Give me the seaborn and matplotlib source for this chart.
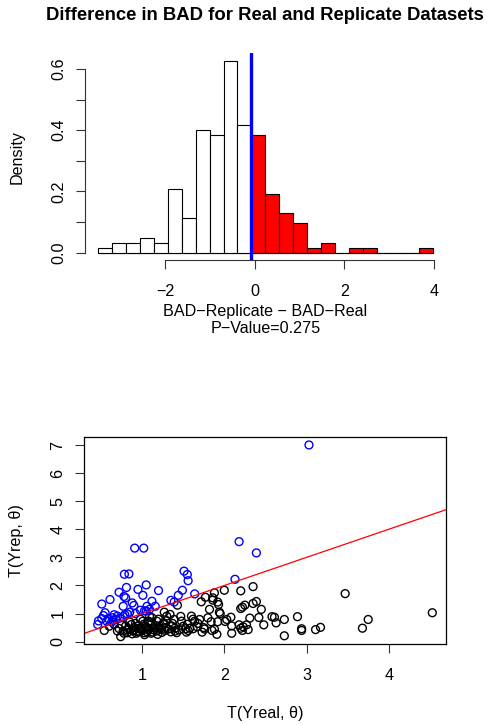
import numpy as np
import pandas as pd
import matplotlib
matplotlib.use("Agg")
import matplotlib.pyplot as plt
import seaborn as sns

sns.set_style("white")
plt.rcParams['font.family'] = ['Liberation Sans', 'DejaVu Sans']
plt.rcParams['axes.unicode_minus'] = True
for k in ["text.color", "axes.labelcolor", "xtick.color", "ytick.color"]:
    plt.rcParams[k] = "black"

# ---------------- data ----------------
# histogram of BAD(replicate) - BAD(real): bin edges and counts (n = 200)
hist_edges = [-3.507 + 0.3116 * k for k in range(25)]
hist_counts = [1, 2, 2, 3, 2, 13, 7, 25, 24, 39, 26,
               24, 12, 8, 6, 1, 2, 0, 1, 1, 0, 0, 0, 1]
observed_diff = -0.08
p_value = 0.275

# scatter: T(Yreal, theta) vs T(Yrep, theta)
t_real_blue = [3.03, 2.18, 2.39, 0.91, 1.02, 2.13, 1.51, 1.55, 1.56, 0.785, 0.84,
               1.05, 0.95, 1.01, 0.81, 0.72, 0.78, 0.80, 1.20, 1.49, 1.44, 1.64,
               1.35, 1.39, 0.61, 0.51, 0.77, 0.88, 0.90, 1.12, 1.16, 1.06, 0.85,
               0.92, 1.05, 1.09, 0.55, 0.66, 0.70, 0.47, 0.46, 0.51, 0.53, 0.59,
               0.64, 0.65, 0.73, 0.77, 0.79, 0.82, 0.63, 0.57, 0.68, 0.98, 1.03]
t_rep_blue = [7.00, 3.56, 3.16, 3.33, 3.33, 2.22, 2.51, 2.39, 2.17, 2.40, 2.41,
              2.02, 1.86, 1.65, 1.93, 1.76, 1.61, 1.56, 1.82, 1.83, 1.65, 1.70,
              1.47, 1.41, 1.50, 1.34, 1.26, 1.38, 1.29, 1.44, 1.26, 1.26, 1.05,
              1.00, 1.09, 1.15, 1.03, 0.96, 0.91, 0.74, 0.61, 0.82, 0.93, 0.82,
              0.85, 0.77, 0.84, 0.89, 0.96, 0.99, 0.70, 0.73, 0.79, 1.12, 1.10]

t_real_black = [4.53, 3.47, 3.75, 3.68, 3.17, 3.11, 2.94, 2.94, 2.89, 2.73, 2.73,
                2.63, 2.61, 2.58, 2.48, 2.45, 2.42, 2.39, 2.35, 2.35, 2.31, 2.29,
                2.27, 2.25, 2.22, 2.20, 2.20, 2.23, 2.20, 2.18, 2.22, 2.09, 2.09,
                2.08, 2.03, 2.00, 2.01, 1.95, 1.94, 1.93, 1.92, 1.88, 1.86, 1.86,
                1.82, 1.91, 1.88, 1.84, 1.92, 1.77, 1.72, 1.75, 1.73, 1.70, 1.67,
                1.64, 1.62, 1.60, 1.56, 1.53, 1.54, 1.48, 1.43, 1.42, 1.40, 1.39,
                1.36, 1.34, 1.30, 1.29, 1.27, 1.26, 1.24, 1.21, 1.19, 1.18, 1.15,
                1.13, 1.11, 1.09, 1.08, 1.06, 1.04, 1.03, 1.01, 0.99, 0.97, 0.95,
                0.93, 0.91, 0.89, 0.87, 0.84, 0.82, 0.80, 0.77, 0.74, 0.72, 0.54,
                0.60, 0.66, 0.70, 0.75, 0.78, 0.82, 0.85, 0.88, 0.90, 0.92, 0.94,
                0.96, 0.98, 1.00, 1.02, 1.03, 1.05, 1.06, 1.08, 1.10, 1.11, 1.12,
                1.14, 1.16, 1.18, 1.20, 1.22, 1.24, 1.26, 1.28, 1.30, 1.32, 1.35,
                1.37, 1.40, 1.45, 1.47, 1.50, 1.55, 1.58, 1.62, 1.68, 1.76, 1.80,
                1.85]
t_rep_black = [1.03, 1.71, 0.79, 0.48, 0.51, 0.43, 0.46, 0.40, 0.89, 0.79, 0.21,
               0.67, 0.87, 0.89, 0.60, 1.15, 0.86, 1.43, 1.36, 1.96, 0.84, 0.43,
               0.60, 1.30, 1.23, 1.18, 1.81, 0.53, 0.48, 0.60, 0.40, 0.30, 0.56,
               0.87, 0.79, 1.83, 0.72, 1.00, 1.05, 1.32, 1.41, 1.74, 1.56, 1.48,
               1.15, 0.26, 0.44, 0.71, 0.71, 1.58, 1.42, 0.50, 0.34, 0.79, 0.53,
               0.73, 0.46, 0.91, 0.40, 0.46, 0.34, 0.73, 1.30, 0.32, 0.38, 0.79,
               0.56, 0.97, 0.91, 0.50, 1.05, 0.67, 0.44, 0.56, 0.26, 0.73, 0.50,
               0.34, 0.61, 0.91, 0.73, 0.44, 0.56, 0.32, 0.73, 0.46, 0.37, 0.56,
               0.30, 0.50, 0.38, 0.61, 0.46, 0.32, 0.56, 0.38, 0.18, 0.47, 0.40,
               0.55, 0.62, 0.38, 0.60, 0.30, 0.42, 0.70, 0.28, 0.42, 0.65, 0.35,
               0.47, 0.80, 0.40, 0.62, 0.25, 0.52, 0.35, 0.45, 0.68, 0.30, 0.85,
               0.42, 0.58, 0.38, 0.80, 0.48, 0.33, 0.62, 0.40, 0.75, 0.45, 0.35,
               0.65, 0.48, 0.42, 0.90, 0.55, 0.62, 0.48, 0.80, 0.65, 0.45, 0.85,
               0.40]

# ---------------- figure ----------------
W, H = 487, 725
fig = plt.figure(figsize=(W / 100, H / 100), dpi=100)

def frac(l, t, r, b):
    return [l / W, 1 - b / H, (r - l) / W, (b - t) / H]

LBL = 11.6
TICK = 11.6

# ---- top: histogram ----
ax1 = fig.add_axes(frac(84.7, 53.4, 446.0, 260.3))
edges = np.array(hist_edges)
centers = (edges[:-1] + edges[1:]) / 2
df_h = pd.DataFrame({
    "diff": centers,
    "count": hist_counts,
    "side": np.where(centers > observed_diff, "above", "below"),
})
sns.histplot(data=df_h, x="diff", weights="count", bins=list(hist_edges),
             stat="density",
             hue="side", palette={"below": "white", "above": "red"},
             hue_order=["below", "above"], multiple="layer", common_norm=True,
             alpha=1, edgecolor="black", linewidth=0.8, legend=False, ax=ax1)
ax1.axvline(observed_diff, color="blue", lw=2.4)

span = edges[-1] - edges[0]
ax1.set_xlim(edges[0] - 0.04 * span, edges[-1] + 0.04 * span)
ymax = max(hist_counts) / (sum(hist_counts) * (edges[1] - edges[0]))
ax1.set_ylim(-0.04 * ymax, 1.04 * ymax)
ax1.set_xticks([-2, 0, 2, 4])
ax1.set_xticklabels(["\u22122", "0", "2", "4"])
ax1.set_yticks([0, 0.1, 0.2, 0.3, 0.4, 0.5, 0.6])
ax1.set_yticklabels(["0.0", "", "0.2", "", "0.4", "", "0.6"],
                    rotation=90, va="center")
for s in ["top", "right"]:
    ax1.spines[s].set_visible(False)
ax1.spines["left"].set_bounds(0, 0.6)
ax1.spines["bottom"].set_bounds(-2, 4)
ax1.set_ylabel("Density", fontsize=LBL)
ax1.set_xlabel("BAD\u2212Replicate \u2212 BAD\u2212Real\nP\u2212Value=" + str(p_value),
               fontsize=LBL, linespacing=1.2)
ax1.xaxis.set_label_coords(0.5, -0.21)
ax1.yaxis.set_label_coords(-0.166, 0.5)
ax1.set_title("Difference in BAD for Real and Replicate Datasets",
              fontsize=13.35, fontweight="bold", pad=24)

# ---- bottom: scatter ----
ax2 = fig.add_axes(frac(84.3, 437.3, 445.7, 644.3))
df_s = pd.DataFrame({
    "real": t_real_black + t_real_blue,
    "rep": t_rep_black + t_rep_blue,
})
df_s["above"] = np.where(df_s["rep"] > df_s["real"], "above", "below")
sns.scatterplot(data=df_s, x="real", y="rep", hue="above",
                palette={"below": "black", "above": "blue"}, marker="o",
                s=32, legend=False, ax=ax2)
pts = ax2.collections[-1]
fc = pts.get_facecolors()
pts.set_edgecolors(fc)
pts.set_facecolors("none")
pts.set_linewidths(1.0)
ax2.axline((0, 0), slope=1, color="red", lw=0.9)

xr = (min(df_s["real"]), max(df_s["real"]))
yr = (min(df_s["rep"]), max(df_s["rep"]))
ax2.set_xlim(xr[0] - 0.04 * (xr[1] - xr[0]), xr[1] + 0.04 * (xr[1] - xr[0]))
ax2.set_ylim(yr[0] - 0.04 * (yr[1] - yr[0]), yr[1] + 0.04 * (yr[1] - yr[0]))
ax2.set_xticks([1, 2, 3, 4])
ax2.set_yticks(range(8))
ax2.set_yticklabels([str(v) for v in range(8)], rotation=90, va="center")
for s in ax2.spines.values():
    s.set_visible(True)
    s.set_color("black")
    s.set_linewidth(0.9)
ax2.set_xlabel("T(Yreal, \u03b8)", fontsize=LBL)
ax2.set_ylabel("T(Yrep, \u03b8)", fontsize=LBL)
ax2.xaxis.set_label_coords(0.5, -0.3)
ax2.yaxis.set_label_coords(-0.166, 0.5)

for ax in (ax1, ax2):
    ax.tick_params(axis="both", which="both", direction="out", length=6.5,
                   width=0.8, color="#333333", labelsize=TICK,
                   bottom=True, left=True, top=False, right=False)
    ax.tick_params(axis="x", pad=10.5)
    ax.tick_params(axis="y", pad=7)
    ax.spines["left"].set_color("#333333")
    ax.spines["bottom"].set_color("#333333")
ax2.spines["left"].set_color("black")
ax2.spines["bottom"].set_color("black")

fig.savefig("out.png", dpi=100)
